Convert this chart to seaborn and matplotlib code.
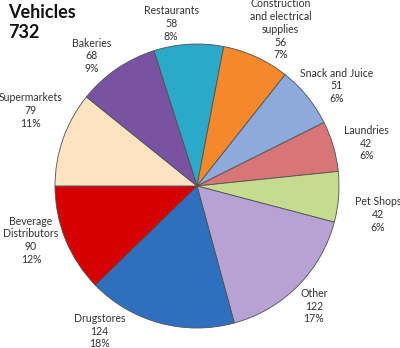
import numpy as np
import matplotlib
matplotlib.use("Agg")
import matplotlib.pyplot as plt
import seaborn as sns

# Vehicle counts by business type, in clockwise order
categories = ["Restaurants", "Construction\nand electrical\nsupplies", "Snack and Juice",
              "Laundries", "Pet Shops", "Other", "Drugstores",
              "Beverage\nDistributors", "Supermarkets", "Bakeries"]
vehicles = [58, 56, 51, 42, 42, 122, 124, 90, 79, 68]
percent_labels = ["8%", "7%", "6%", "6%", "6%", "17%", "18%", "12%", "11%", "9%"]
slice_colors = ["#2BA9C8", "#F3892A", "#8EAADD", "#D87576", "#C5DB8F",
                "#B6A2D3", "#2F70BE", "#D60000", "#FDE3C2", "#7A52A2"]

# label placement: (angle shift in degrees, distance as a multiple of the radius)
label_layout = {
    "Restaurants": (5.6, 1.16),
    "Construction\nand electrical\nsupplies": (-3.4, 1.25),
    "Snack and Juice": (-3.5, 1.21),
    "Laundries": (-2.0, 1.23),
    "Pet Shops": (-4.6, 1.29),
    "Other": (-1.0, 1.18),
    "Drugstores": (-18.6, 1.23),
    "Beverage\nDistributors": (-4.0, 1.23),
    "Supermarkets": (-5.0, 1.29),
    "Bakeries": (4.6, 1.18),
}

sns.set_theme(style="white")
plt.rcParams["font.family"] = ["Lato", "DejaVu Sans"]

W, H = 400, 348
fig = plt.figure(figsize=(W / 100, H / 100), dpi=100)
ax = fig.add_axes([0, 0, 1, 1])

center = (197, 162)
radius = 142
total = sum(vehicles)
palette = sns.color_palette(slice_colors)

wedges, _ = ax.pie(vehicles, colors=palette, startangle=107.7, counterclock=False,
                   center=center, radius=radius, frame=True,
                   wedgeprops=dict(edgecolor="#505050", linewidth=0.6))
ax.set_xlim(0, W)
ax.set_ylim(0, H)
ax.set_aspect("equal")
ax.axis("off")

# data labels placed outside each wedge
for w, name, v, pct in zip(wedges, categories, vehicles, percent_labels):
    shift, dist = label_layout[name]
    mid = 0.5 * (w.theta1 + w.theta2) + shift
    x = center[0] + radius * dist * np.cos(np.radians(mid))
    y = center[1] + radius * dist * np.sin(np.radians(mid))
    ax.text(x, y, f"{name}\n{v}\n{pct}", ha="center", va="center",
            fontsize=7.6, color="#333333", linespacing=1.2, zorder=5)

ax.text(8, H - 4, f"Vehicles\n{total}", ha="left", va="top", fontsize=13,
        fontweight="bold", color="#111111", linespacing=1.25)

fig.savefig("out.png", dpi=100)
